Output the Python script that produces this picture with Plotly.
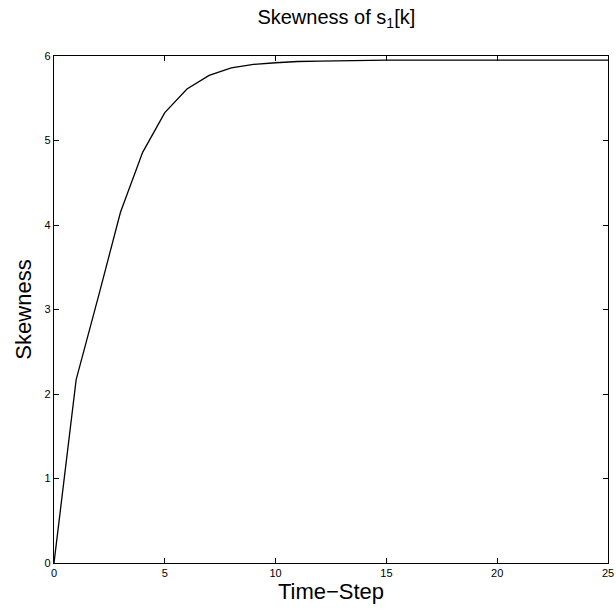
import plotly.graph_objects as go

# Skewness of s1[k] per time step
time_step = [0, 1, 2, 3, 4, 5, 6, 7, 8, 9, 10, 11, 12, 13, 14, 15, 16, 17, 18, 19, 20, 21, 22, 23, 24, 25]
skewness = [0.0, 2.17, 3.15, 4.15, 4.86, 5.33, 5.61, 5.77, 5.86, 5.90, 5.92, 5.935, 5.94, 5.945, 5.945, 5.95,
            5.95, 5.95, 5.95, 5.95, 5.95, 5.95, 5.95, 5.95, 5.95, 5.95]

x_ticks = [0, 5, 10, 15, 20, 25]
y_ticks = [0, 1, 2, 3, 4, 5, 6]

font = "Liberation Sans, Arial, sans-serif"

fig = go.Figure()
fig.add_trace(go.Scatter(x=time_step, y=skewness, mode="lines",
                         line=dict(color="black", width=1.3), showlegend=False))

axis_common = dict(showgrid=False, zeroline=False, showline=True, linecolor="black",
                   linewidth=1.2, mirror="allticks", ticks="inside", ticklen=5,
                   tickcolor="black", tickwidth=1, ticklabeloverflow="allow",
                   automargin=False,
                   tickfont=dict(family=font, size=11, color="black"))

fig.update_xaxes(range=[0, 25], tickvals=x_ticks, ticktext=[str(v) for v in x_ticks],
                 title=dict(text="Time\u2212Step", font=dict(family=font, size=22, color="black"),
                            standoff=2),
                 **axis_common)
fig.update_yaxes(range=[0, 6], tickvals=y_ticks, ticktext=[str(v) for v in y_ticks],
                 title=dict(text="Skewness", font=dict(family=font, size=22, color="black"),
                            standoff=6),
                 **axis_common)

fig.update_layout(
    width=616, height=614,
    margin=dict(l=54, r=8, t=56, b=51, autoexpand=False),
    paper_bgcolor="white", plot_bgcolor="white",
    title=dict(text="Skewness of s<sub>1</sub>[k]", x=0.546, xanchor="center",
               y=0.972, yanchor="middle",
               font=dict(family=font, size=20, color="black")),
)

fig.write_html("out.html")
